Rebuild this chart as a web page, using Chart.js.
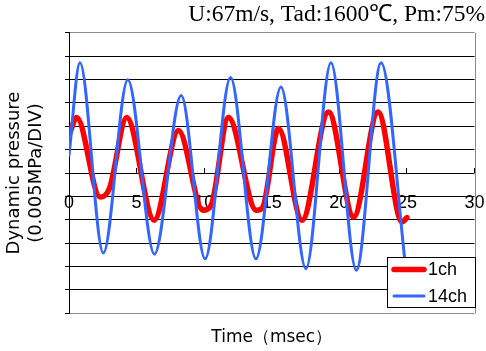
<!DOCTYPE html>
<html>
<head>
<meta charset="utf-8">
<script src="https://cdn.jsdelivr.net/npm/chart.js@4.4.1/dist/chart.umd.min.js"></script>
<style>
  html, body { margin: 0; padding: 0; background: #fff; }
  #wrap { width: 486px; height: 351px; }
</style>
</head>
<body>
<div id="wrap"><canvas id="pressureChart"></canvas></div>
<script>
const chartTitle = 'U:67m/s, Tad:1600℃, Pm:75%';
const xTitle = 'Time（msec）';
const yTitle = ['Dynamic pressure', '(0.005MPa/DIV)'];
const seriesNames = ['1ch', '14ch'];

// time in msec, pressure in DIV (1 DIV = 0.005 MPa)
const ch1Time = [0, 0.57, 2.3, 3.0, 4.27, 6.3, 8.1, 9.9, 10.5, 11.8, 13.85, 14.3, 15.5, 17.24, 19.2, 21.06, 22.86, 24.64, 25.0];
const ch1Value = [1.6, 2.37, -1.03, -0.65, 2.37, -2.02, 1.82, -1.59, -1.4, 2.37, -1.59, -1.5, 1.9, -2.02, 2.61, -1.88, 2.61, -2.09, -1.91];
const ch14Time = [0, 0.81, 2.54, 4.35, 6.32, 8.3, 10.07, 11.95, 13.83, 15.68, 17.53, 19.38, 21.26, 23.09, 24.9];
const ch14Value = [0.76, 4.72, -3.42, 3.99, -3.47, 3.31, -3.67, 4.08, -3.67, 3.68, -4.09, 4.72, -4.16, 4.72, -4.0];

const xMin = 0, xMax = 30, xStep = 5;
const yMin = -6, yMax = 6;

const sans = '"Liberation Sans", Arial, sans-serif';
const wideSans = '"DejaVu Sans", sans-serif';

const toPoints = (xs, ys) => xs.map((x, i) => ({ x, y: ys[i] }));

// grey frame on the right side
const frame = {
  id: 'frame',
  beforeDatasetsDraw(chart) {
    const { ctx, chartArea: a } = chart;
    ctx.save();
    ctx.strokeStyle = '#8c8c8c';
    ctx.lineWidth = 1;
    ctx.beginPath();
    ctx.moveTo(Math.round(a.right) + 0.5, a.top);
    ctx.lineTo(Math.round(a.right) + 0.5, a.bottom);
    ctx.stroke();
    ctx.restore();
  },
};

// boxed legend inside the lower right corner
const boxLegend = {
  id: 'boxLegend',
  afterDatasetsDraw(chart) {
    const { ctx, chartArea: a } = chart;
    const w = 88;
    const h = 50;
    const x = Math.round(a.right) - w;
    const y = Math.round(a.bottom) - 56;
    ctx.save();
    ctx.fillStyle = '#fff';
    ctx.fillRect(x, y, w, h);
    ctx.strokeStyle = '#000';
    ctx.lineWidth = 1;
    ctx.strokeRect(x + 0.5, y + 0.5, w, h);
    chart.data.datasets.forEach((ds, i) => {
      const ly = y + 12.5 + i * 26.5;
      ctx.strokeStyle = ds.borderColor;
      ctx.lineWidth = ds.borderWidth;
      ctx.lineCap = 'round';
      ctx.beginPath();
      ctx.moveTo(x + 7, ly);
      ctx.lineTo(x + 37, ly);
      ctx.stroke();
      ctx.fillStyle = '#000';
      ctx.font = '18px ' + sans;
      ctx.textBaseline = 'middle';
      ctx.fillText(ds.label, x + 41, ly + 1);
    });
    ctx.restore();
  },
};

new Chart(document.getElementById('pressureChart').getContext('2d'), {
  type: 'line',
  data: {
    datasets: [
      {
        label: seriesNames[0],
        data: toPoints(ch1Time, ch1Value),
        borderColor: '#ff0000',
        borderWidth: 5.5,
        order: 1,
      },
      {
        label: seriesNames[1],
        data: toPoints(ch14Time, ch14Value),
        borderColor: '#3366ff',
        borderWidth: 3,
        order: 0,
      },
    ],
  },
  options: {
    responsive: true,
    maintainAspectRatio: false,
    animation: false,
    layout: { padding: { left: 0, right: 1, top: 0, bottom: 0 } },
    elements: {
      line: {
        cubicInterpolationMode: 'monotone',
        borderCapStyle: 'round',
        borderJoinStyle: 'round',
        fill: false,
      },
      point: { radius: 0, hoverRadius: 0 },
    },
    plugins: {
      legend: { display: false },
      tooltip: { enabled: false },
      title: {
        display: true,
        text: chartTitle,
        align: 'end',
        color: '#000',
        font: { family: '"Liberation Serif", "Times New Roman", serif', size: 23.5, weight: 'normal' },
        padding: { top: 0.5, bottom: 4 },
      },
      subtitle: {
        display: true,
        position: 'bottom',
        fullSize: false,
        text: xTitle,
        color: '#000',
        font: { family: wideSans, size: 17, weight: 'normal' },
        padding: { top: 14.5, bottom: 2.8 },
      },
    },
    scales: {
      x: {
        type: 'linear',
        position: { y: 0 },
        min: xMin,
        max: xMax,
        afterFit(scale) {
          // labels sit inside the plot, keep them from shrinking it
          scale.paddingLeft = 0;
          scale.paddingRight = 0;
        },
        border: { display: false },
        grid: {
          display: true,
          drawOnChartArea: false,
          drawTicks: true,
          tickLength: -5,
          tickColor: '#000',
        },
        ticks: {
          stepSize: xStep,
          color: '#000',
          padding: 24.5,
          maxRotation: 0,
          font: { family: sans, size: 18 },
        },
      },
      y: {
        type: 'linear',
        position: 'left',
        min: yMin,
        max: yMax,
        afterFit(scale) {
          scale.width = 69;
        },
        border: { display: true, color: '#000', width: 1 },
        grid: {
          color: (c) => (c.tick && Math.abs(c.tick.value) === yMax ? '#8c8c8c' : '#000'),
          tickColor: '#000',
          tickLength: 4,
        },
        ticks: { display: false, stepSize: 1 },
        title: {
          display: true,
          text: yTitle,
          color: '#000',
          font: { family: wideSans, size: 18, weight: 'normal' },
          padding: { top: 4, bottom: 0 },
        },
      },
      yRight: {
        type: 'linear',
        position: 'right',
        display: true,
        min: yMin,
        max: yMax,
        afterFit(scale) {
          scale.width = 10.5;
        },
        border: { display: false },
        grid: { display: false },
        ticks: { display: false },
      },
    },
  },
  plugins: [frame, boxLegend],
});
</script>
</body>
</html>
